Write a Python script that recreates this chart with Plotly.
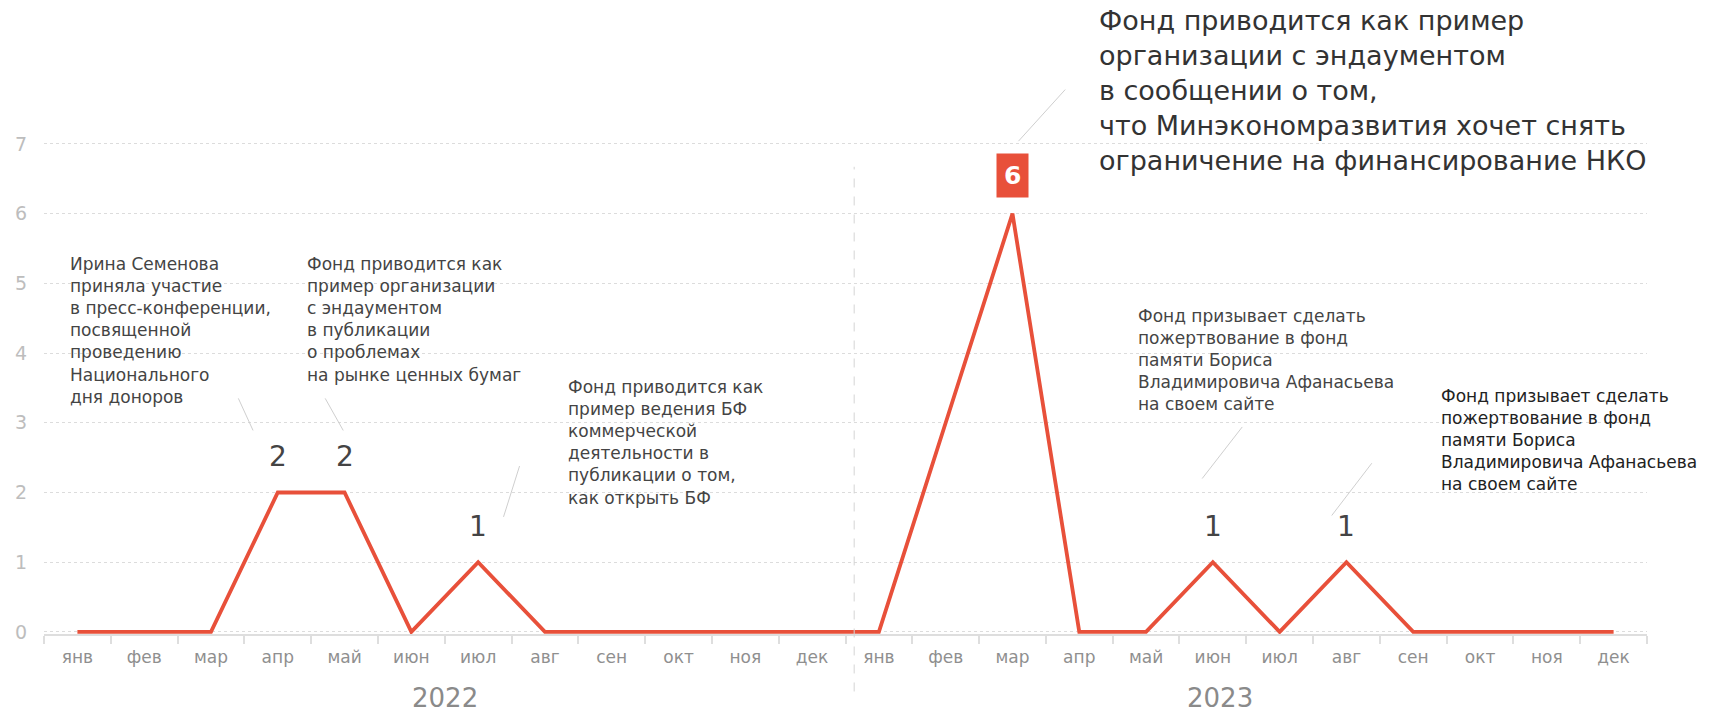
"""Media mentions per month, 2022-2023, with event annotations."""

import plotly.graph_objects as go

MONTHS = ["янв", "фев", "мар", "апр", "май", "июн", "июл", "авг", "сен", "окт", "ноя", "дек"]
YEARS = ["2022", "2023"]
VALUES_2022 = [0, 0, 0, 2, 2, 0, 1, 0, 0, 0, 0, 0]
VALUES_2023 = [0, 3, 6, 0, 0, 1, 0, 1, 0, 0, 0, 0]

# months (index over both years) that carry a value label and a note
NOTED_MONTHS = [3, 4, 6, 14, 17, 19]
NOTES = [
    "Ирина Семенова<br>приняла участие<br>в пресс-конференции,<br>посвященной<br>проведению<br>Национального<br>дня доноров",
    "Фонд приводится как<br>пример организации<br>с эндаументом<br>в публикации<br>о проблемах<br>на рынке ценных бумаг",
    "Фонд приводится как<br>пример ведения БФ<br>коммерческой<br>деятельности в<br>публикации о том,<br>как открыть БФ",
    "Фонд приводится как пример<br>организации с эндаументом<br>в сообщении о том,<br>что Минэкономразвития хочет снять<br>ограничение на финансирование НКО",
    "Фонд призывает сделать<br>пожертвование в фонд<br>памяти Бориса<br>Владимировича Афанасьева<br>на своем сайте",
    "Фонд призывает сделать<br>пожертвование в фонд<br>памяти Бориса<br>Владимировича Афанасьева<br>на своем сайте",
]

RED = "#E8503A"
FONT = "DejaVu Sans"
Y_RANGE = [-0.03, 7.2]


def ypaper(v):
    # data y -> paper fraction, so notes can sit above the plot area
    return (v - Y_RANGE[0]) / (Y_RANGE[1] - Y_RANGE[0])


values = VALUES_2022 + VALUES_2023
x = list(range(len(values)))
tick_text = MONTHS * len(YEARS)

fig = go.Figure()
fig.add_trace(go.Scatter(
    x=x, y=values, mode="lines",
    line=dict(color=RED, width=3.8),
    hoverinfo="skip",
))

# value labels above the noted months
peak = max(values)
for xi in NOTED_MONTHS:
    v = values[xi]
    if v == peak:
        fig.add_annotation(x=xi, y=v, text=f"<b>{v}</b>", showarrow=False, yshift=38,
                           bgcolor=RED, borderpad=7,
                           font=dict(family=FONT, size=25, color="white"))
    else:
        fig.add_annotation(x=xi, y=v, text=str(v), showarrow=False, yshift=36,
                           font=dict(family=FONT, size=28, color="#444"))

# year labels
for i, yr in enumerate(YEARS):
    fig.add_annotation(x=5.5 + i * 11.6, y=-0.161, yref="paper", text=yr, showarrow=False,
                       yanchor="bottom", font=dict(family=FONT, size=26, color="#8a8a8a"))

# event notes: (left x, top y, font size, colour)
note_pos = [
    (-0.14, 5.45, 17, "#444"),
    (3.41, 5.45, 17, "#444"),
    (7.31, 3.68, 17, "#444"),
    (15.27, 9.02, 27, "#333"),
    (15.85, 4.71, 17, "#444"),
    (20.39, 3.56, 17, "#222"),
]
for txt, (nx, ny, fs, col) in zip(NOTES, note_pos):
    fig.add_annotation(x=nx, y=ypaper(ny), yref="paper", text=txt, showarrow=False,
                       xanchor="left", yanchor="top", align="left",
                       font=dict(family=FONT, size=fs, color=col))

# connector strokes
connectors = [
    (2.41, 3.35, 2.63, 2.89),
    (3.71, 3.35, 3.98, 2.89),
    (6.62, 2.38, 6.38, 1.65),
    (14.79, 7.78, 14.09, 7.04),
    (17.44, 2.94, 16.84, 2.20),
    (19.38, 2.42, 18.78, 1.67),
]
for x0, y0, x1, y1 in connectors:
    fig.add_shape(type="line", x0=x0, y0=ypaper(y0), x1=x1, y1=ypaper(y1), yref="paper",
                  line=dict(color="#cfcfcf", width=1))

# year divider
fig.add_shape(type="line", x0=11.63, x1=11.63, y0=-0.114, y1=0.927, yref="paper",
              line=dict(color="#d5d5d5", width=1, dash="dash"))

fig.update_xaxes(
    range=[-0.5, 23.5],
    tickvals=x, ticktext=tick_text, ticks="",
    tickfont=dict(family=FONT, size=17, color="#8f8f8f"),
    ticklabelstandoff=7,
    showgrid=False, zeroline=False,
    showline=True, linecolor="#dedede", linewidth=2,
    minor=dict(tickvals=[i - 0.5 for i in range(25)], ticks="outside",
               ticklen=8, tickcolor="#dedede", tickwidth=1.5, showgrid=False),
)
fig.update_yaxes(
    range=Y_RANGE, dtick=1,
    tickfont=dict(family=FONT, size=19, color="#bdbdbd"),
    ticklabelstandoff=16,
    showgrid=True, gridcolor="#dcdcdc", griddash="dot", gridwidth=1,
    zeroline=False, showline=False,
)
fig.update_layout(
    width=1725, height=712,
    margin=dict(l=44, r=78, t=130, b=78),
    plot_bgcolor="white", paper_bgcolor="white",
    showlegend=False,
)

fig.write_html("out.html", config={"displayModeBar": False},
               post_script="document.body.style.margin='0';")
